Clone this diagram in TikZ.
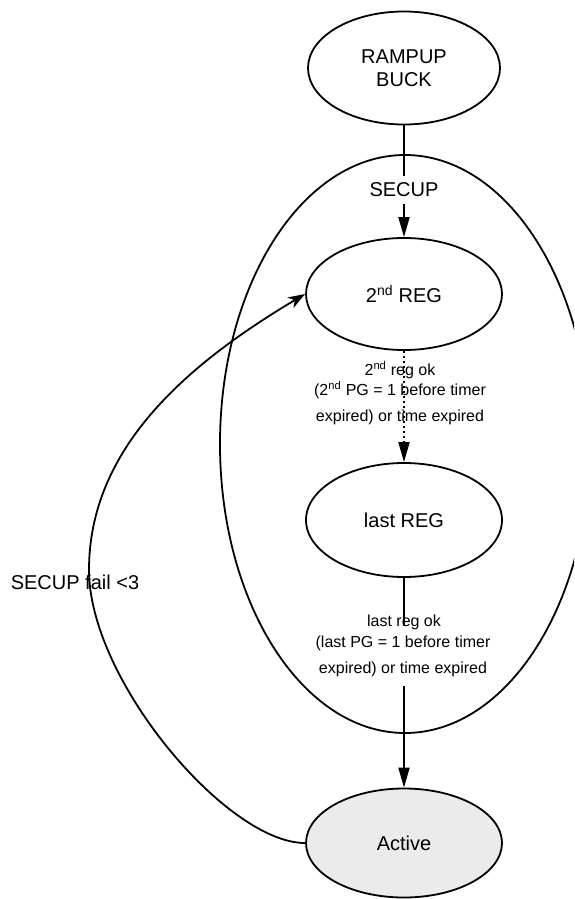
\documentclass[tikz,border=0pt]{standalone}
\usepackage{fontspec}
\setmainfont{Liberation Sans}
\usetikzlibrary{shapes.geometric,arrows.meta}
\definecolor{activegray}{HTML}{EBEBEB}
\begin{document}
\begin{tikzpicture}[x=1pt,y=-1pt,
  state/.style={ellipse, draw, line width=1.8pt, inner sep=0pt,
    minimum width=196pt, minimum height=112pt,
    font=\fontsize{20pt}{23pt}\selectfont, align=center},
  flow/.style={line width=1.8pt, -{Triangle[length=20pt,width=11pt]}},
  cond/.style={font=\fontsize{16pt}{20pt}\selectfont, align=center, inner sep=0pt},
  biglabel/.style={font=\fontsize{20pt}{23pt}\selectfont, inner sep=0pt}]
\useasboundingbox (0,0) rectangle (574,899);
\clip (0,0) rectangle (574,899);

% SECUP super-state and its sub-states
\node[state, minimum width=370pt, minimum height=578pt] (secup) at (405,444) {};
\node[state, minimum width=192pt, minimum height=113pt] (rampup) at (404,68) {RAMPUP\\BUCK};
\node[state] (reg2) at (404,294) {2\textsuperscript{nd} REG};
\node[state, minimum height=114pt] (last) at (404,520) {last REG};
\node[state, fill=activegray, minimum height=109pt] (active) at (404,843) {Active};

% entry into SECUP
\draw[flow] (rampup.south) -- node[biglabel, fill=white, inner ysep=7pt, pos=0.577] (secuplbl) {SECUP} (reg2.north);

% 2nd regulator -> last regulator
\draw[flow, dash pattern=on 2.5pt off 2.5pt] (reg2.south) -- (last.north);
\node[cond] (reg2lbl) at (400,393)
  {2\textsuperscript{nd} reg ok\\(2\textsuperscript{nd} PG = 1 before timer\\[6pt]expired) or time expired};

% last regulator -> active
\draw[flow] (last.south) -- (active.north);
\node[cond, fill=white, inner xsep=2pt, inner ysep=10pt] (lastpg) at (403,656)
  {(last PG = 1 before timer\\[6pt]expired) or time expired};
\node[cond] (lastok) at (404,622) {last reg ok};

% retry loop
\coordinate (bend) at (89,570);
\draw[line width=1.8pt, -{Stealth[length=17pt,width=12pt,inset=5pt]}]
  (active.west) .. controls (227,843) and (89,680) .. (bend)
  .. controls (89,450) and (184,366) .. (reg2.west);
\node[biglabel] (faillbl) at (75,582) {SECUP fail <3};
\end{tikzpicture}
\end{document}
